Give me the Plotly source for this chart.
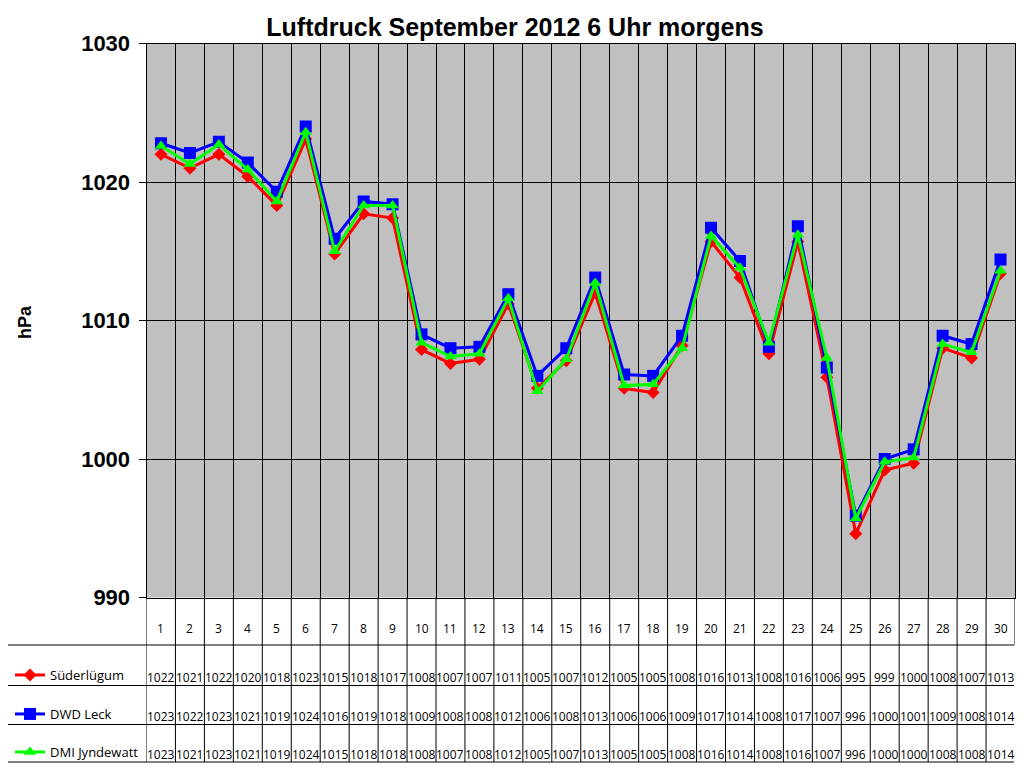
import plotly.graph_objects as go

# Luftdruck September 2012, 6 Uhr morgens (hPa)
days = list(range(1, 31))

suederluegum = [1022.0, 1021.0, 1022.0, 1020.4, 1018.3, 1023.1, 1014.8, 1017.7, 1017.4, 1007.9,
                1006.9, 1007.2, 1011.2, 1005.1, 1007.1, 1012.0, 1005.1, 1004.8, 1008.2, 1015.7,
                1013.1, 1007.6, 1015.7, 1005.9, 994.6, 999.2, 999.7, 1008.0, 1007.3, 1013.4]
dwd_leck = [1022.8, 1022.1, 1022.9, 1021.4, 1019.3, 1024.0, 1015.9, 1018.6, 1018.4, 1009.0,
            1008.0, 1008.1, 1011.9, 1006.0, 1008.0, 1013.1, 1006.1, 1006.0, 1008.9, 1016.7,
            1014.3, 1008.1, 1016.8, 1006.6, 995.9, 1000.0, 1000.7, 1008.9, 1008.3, 1014.4]
dmi_jyndewatt = [1022.6, 1021.3, 1022.7, 1020.9, 1018.6, 1023.6, 1015.0, 1018.3, 1018.3, 1008.4,
                 1007.4, 1007.6, 1011.6, 1004.9, 1007.2, 1012.7, 1005.3, 1005.4, 1008.0, 1016.1,
                 1013.8, 1008.4, 1016.2, 1007.3, 995.7, 999.8, 1000.1, 1008.3, 1007.7, 1013.6]

series_names = ['Süderlügum', 'DWD Leck', 'DMI Jyndewatt']
series_values = [suederluegum, dwd_leck, dmi_jyndewatt]
colors = ['#FF0000', '#0000FF', '#00FF00']
symbols = ['diamond', 'square', 'triangle-up']
msizes = [10, 12, 11]

# the page puts the figure 8px in from the top-left corner
OFF = 8
W, H = 1024 - 2 * OFF, 768 - OFF
def py(y):
    # screen row -> paper coordinate
    return 1 - (y - OFF) / H
def pxx(x):
    # screen column -> paper coordinate
    return (x - OFF) / W

plot_left, plot_right, plot_top, plot_bottom = 146.5, 1015, 43.5, 597.5
row_lines = [645, 685.5, 724.5, 762]
row_text = [677, 716, 754]
legend_y = [675, 714, 752]

fig = go.Figure()
legends = ['legend', 'legend2', 'legend3']
for i in range(3):
    fig.add_trace(go.Scatter(
        x=days, y=series_values[i], name=series_names[i], mode='lines+markers',
        line=dict(color=colors[i], width=3),
        marker=dict(symbol=symbols[i], size=msizes[i], color=colors[i], line=dict(width=0)),
        legend=legends[i], showlegend=True))

# data table text
annotations = []
for d in days:
    annotations.append(dict(x=d, y=py(628), xref='x', yref='paper', text=str(d), showarrow=False,
                            xanchor='center', yanchor='middle',
                            font=dict(family='Open Sans', size=12, color='black')))
for i in range(3):
    for d, v in zip(days, series_values[i]):
        annotations.append(dict(x=d, y=py(row_text[i]), xref='x', yref='paper', text=f'{v:.0f}',
                                showarrow=False, xanchor='center', yanchor='middle',
                                font=dict(family='Open Sans', size=12, color='black')))
annotations.append(dict(x=pxx(25), y=py(322), xref='paper', yref='paper', text='<b>hPa</b>',
                        textangle=-90, showarrow=False, xanchor='center', yanchor='middle',
                        font=dict(family='Liberation Sans', size=18, color='black')))

# table lines
shapes = []
for y in row_lines:
    shapes.append(dict(type='line', xref='paper', yref='paper', x0=pxx(6.7), x1=pxx(1014),
                       y0=py(y), y1=py(y), line=dict(color='black', width=1)))
shapes.append(dict(type='line', xref='paper', yref='paper', x0=pxx(6.7), x1=pxx(6.7),
                   y0=py(row_lines[0]), y1=py(row_lines[-1]), line=dict(color='black', width=1)))
for d in days:
    b = d - 0.5
    shapes.append(dict(type='line', xref='x', yref='paper', x0=b, x1=b,
                       y0=py(plot_bottom), y1=py(row_lines[-1]), line=dict(color='black', width=1)))
shapes.append(dict(type='line', xref='x', yref='paper', x0=30.5, x1=30.5,
                   y0=py(plot_bottom), y1=py(row_lines[0]), line=dict(color='black', width=1)))

legend_common = dict(xref='paper', yref='paper', x=pxx(10), xanchor='left', yanchor='middle',
                     bgcolor='rgba(0,0,0,0)', borderwidth=0, visible=True,
                     font=dict(family='Open Sans', size=13, color='black'))

fig.update_layout(
    width=W, height=H,
    margin=dict(l=0, r=0, t=0, b=0, autoexpand=False),
    showlegend=True,
    paper_bgcolor='white',
    plot_bgcolor='#C0C0C0',
    title=dict(text='<b>Luftdruck September 2012 6 Uhr morgens</b>', x=pxx(515), xanchor='center',
               y=py(27), yanchor='middle',
               font=dict(family='Liberation Sans', size=25, color='black')),
    xaxis=dict(domain=[pxx(plot_left), pxx(plot_right)], range=[0.5, 30.5], tick0=0.5, dtick=1,
               showticklabels=False, ticks='', showgrid=True, gridcolor='black', gridwidth=1,
               showline=True, linecolor='black', linewidth=1, mirror=True, zeroline=False,
               automargin=False),
    yaxis=dict(domain=[py(plot_bottom), py(plot_top)], range=[990, 1030], dtick=10,
               showgrid=True, gridcolor='black', gridwidth=1, ticks='outside', ticklen=7,
               tickcolor='black', showline=True, linecolor='black', linewidth=1, mirror=True,
               zeroline=False, ticklabelstandoff=4, automargin=False,
               tickfont=dict(family='Liberation Sans', size=22, color='black', weight='bold')),
    legend=dict(y=py(legend_y[0]), **legend_common),
    legend2=dict(y=py(legend_y[1]), **legend_common),
    legend3=dict(y=py(legend_y[2]), **legend_common),
    annotations=annotations,
    shapes=shapes,
)

fig.write_html('out.html')
